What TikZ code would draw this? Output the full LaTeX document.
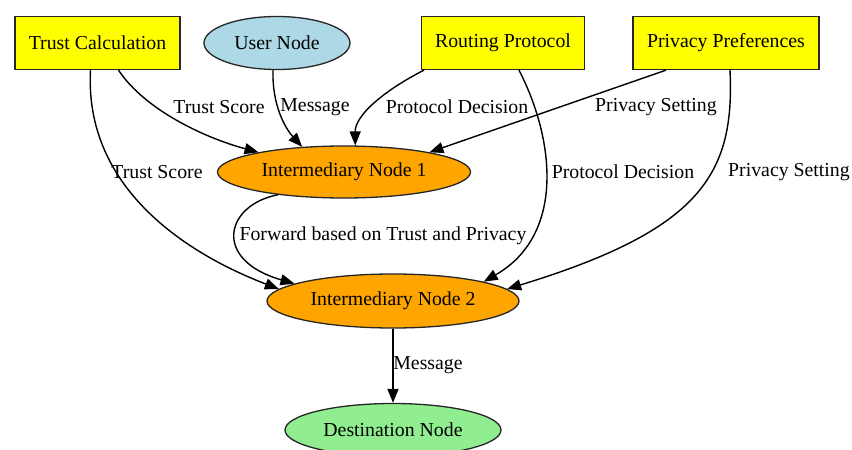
\documentclass[tikz,border=0pt]{standalone}
\usepackage{fontspec}
\setmainfont{Liberation Serif}
\newfontfamily\gvfont{Liberation Serif}
\usetikzlibrary{shapes.geometric,arrows.meta,calc}
\definecolor{boxyellow}{HTML}{FFFF00}
\definecolor{userblue}{HTML}{ADD8E6}
\definecolor{midorange}{HTML}{FFA500}
\definecolor{destgreen}{HTML}{90EE90}
\begin{document}
\begin{tikzpicture}[x=1pt,y=-1pt,
  every node/.style={font=\gvfont\fontsize{19.8}{23}\selectfont, text=black},
  boxnode/.style={rectangle, draw=black!85, line width=1.3pt, fill=boxyellow, inner sep=0pt, minimum height=53pt},
  ellnode/.style={ellipse, draw=black!85, line width=1.3pt, inner sep=0pt, minimum height=53pt},
  lbl/.style={inner sep=0pt},
  conn/.style={draw=black, line width=1.4pt, -{Triangle[length=14pt,width=11pt]}}
]
\useasboundingbox (0,0) rectangle (852,450);
\fill[white] (0,0) rectangle (852,450);

\node[boxnode, minimum width=165pt] (tc) at (97.5,43) {Trust Calculation};
\node[ellnode, fill=userblue, minimum width=146pt] (user) at (277,43) {User Node};
\node[boxnode, minimum width=163pt] (rp) at (503,43) {Routing Protocol};
\node[boxnode, minimum width=186pt] (pp) at (726,43) {Privacy Preferences};
\node[ellnode, fill=midorange, minimum width=253pt, minimum height=52pt] (in1) at (344,172) {Intermediary Node 1};
\node[ellnode, fill=midorange, minimum width=252pt, minimum height=54pt] (in2) at (393,301) {Intermediary Node 2};
\node[ellnode, fill=destgreen, minimum width=216pt] (dest) at (393,430) {Destination Node};

% edges
\draw[conn] ([xshift=21pt]tc.south) .. controls (145,110) and (205,138) .. (in1.167);
\draw[conn] ([xshift=-7pt]tc.south) .. controls (84,190) and (190,255) .. (in2.174);
\draw[conn] ([xshift=-4pt]user.south) .. controls (272,105) and (285,128) .. (in1.149);
\draw[conn] ([xshift=-79pt]rp.south) .. controls (385,90) and (355,115) .. (in1.67);
\draw[conn] ([xshift=16pt]rp.south) .. controls (555,140) and (565,235) .. (in2.12);
\draw[conn] ([xshift=-60pt]pp.south) -- (in1.13.5);
\draw[conn] ([xshift=4pt]pp.south) .. controls (735,175) and (700,230) .. (in2.6);
\draw[conn] (in1.199) .. controls (225,205) and (212,260) .. (in2.170);
\draw[conn] (in2.south) -- (dest.north);

% labels
\node[lbl] (l1) at (219,107) {Trust Score};
\node[lbl] (l2) at (315,107) {Message};
\node[lbl] (l3) at (457,107) {Protocol Decision};
\node[lbl] (l4) at (656,107) {Privacy Setting};
\node[lbl] (l5) at (157,172) {Trust Score};
\node[lbl] (l6) at (623,172) {Protocol Decision};
\node[lbl] (l7) at (789,172) {Privacy Setting};
\node[lbl] (l8) at (383,236) {Forward based on Trust and Privacy};
\node[lbl] (l9) at (428,365) {Message};
\end{tikzpicture}
\end{document}
